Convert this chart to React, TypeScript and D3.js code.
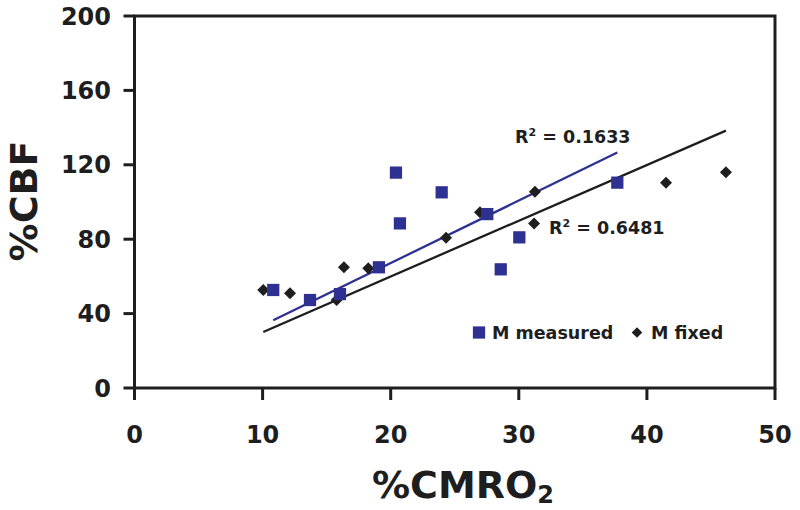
import React from "react";
import * as d3 from "d3";

// M measured (blue squares)
const measuredX = [10.83, 13.7, 16.04, 19.08, 20.41, 20.72, 23.98, 27.54, 28.59, 30.04, 37.69];
const measuredY = [52.7, 47.3, 50.5, 64.9, 115.8, 88.5, 105.2, 93.5, 63.8, 81.0, 110.4];
// M fixed (black diamonds)
const fixedX = [10.05, 12.14, 15.78, 16.35, 18.25, 24.32, 26.97, 31.26, 31.19, 41.49, 46.17];
const fixedY = [52.7, 50.9, 47.3, 64.9, 64.4, 80.8, 94.5, 105.5, 88.5, 110.4, 116.0];

const xTicks = [0, 10, 20, 30, 40, 50];
const yTicks = [0, 40, 80, 120, 160, 200];
const r2Labels = ["0.1633", "0.6481"];
const legendLabels = ["M measured", "M fixed"];

const BLUE = "#2e3192";
const DARK = "#1e1e1e";
const FONT = "'DejaVu Sans', Verdana, sans-serif";

// least squares through origin
function fitSlope(xs: number[], ys: number[]) {
  const sxy = d3.sum(xs, (x, i) => x * ys[i]);
  const sxx = d3.sum(xs, (x) => x * x);
  return sxy / sxx;
}

export default function App() {
  const x = d3.scaleLinear().domain([0, 50]).range([134.5, 775]);
  const y = d3.scaleLinear().domain([0, 200]).range([388, 16]);

  const square = d3.symbol(d3.symbolSquare, 150)()!;
  const diamond = d3.symbol(d3.symbolSquare, 72)()!;
  const legendSquare = d3.symbol(d3.symbolSquare, 150)()!;
  const legendDiamond = d3.symbol(d3.symbolSquare, 56)()!;

  const line = d3
    .line<[number, number]>()
    .x((d) => x(d[0]))
    .y((d) => y(d[1]));

  const bSlope = fitSlope(measuredX, measuredY);
  const kSlope = fitSlope(fixedX, fixedY);
  const bExt = d3.extent(measuredX) as [number, number];
  const kExt = d3.extent(fixedX) as [number, number];
  const blueLine: [number, number][] = bExt.map((v) => [v, v * bSlope] as [number, number]);
  const blackLine: [number, number][] = kExt.map((v) => [v, v * kSlope] as [number, number]);

  const [x0, x1] = x.range();
  const [y0, y1] = y.range();

  return (
    <svg
      width={800}
      height={510}
      style={{ position: "absolute", left: 0, top: 0, background: "#fff" }}
      fontFamily={FONT}
      fontWeight="bold"
    >
      <rect width={800} height={510} fill="#fff" />
      {/* frame */}
      <rect x={x0} y={y1} width={x1 - x0} height={y0 - y1} fill="none" stroke={DARK} strokeWidth={3} />
      {/* y ticks */}
      {yTicks.map((t) => (
        <g key={"y" + t}>
          <line x1={x0 - 11} x2={x0} y1={y(t)} y2={y(t)} stroke={DARK} strokeWidth={3} />
          <text x={111} y={y(t)} dy="0.36em" textAnchor="end" fontSize={24} fill={DARK}>
            {t}
          </text>
        </g>
      ))}
      {/* x ticks */}
      {xTicks.map((t) => (
        <g key={"x" + t}>
          <line x1={x(t)} x2={x(t)} y1={y0} y2={y0 + 12} stroke={DARK} strokeWidth={3} />
          <text x={x(t)} y={443} textAnchor="middle" fontSize={24} fill={DARK}>
            {t}
          </text>
        </g>
      ))}
      {/* axis titles */}
      <text x={463} y={498} textAnchor="middle" fontSize={38} fill={DARK}>
        %CMRO
        <tspan fontSize={24} dy={5}>2</tspan>
      </text>
      <text transform="translate(37,201) rotate(-90)" textAnchor="middle" fontSize={38} fill={DARK}>
        %CBF
      </text>

      {/* trend lines */}
      <path d={line(blackLine)!} stroke={DARK} strokeWidth={2.3} fill="none" />
      <path d={line(blueLine)!} stroke={BLUE} strokeWidth={2.3} fill="none" />

      {/* points */}
      {fixedX.map((v, i) => (
        <path key={"f" + i} d={diamond} transform={`translate(${x(v)},${y(fixedY[i])}) rotate(45)`} fill={DARK} />
      ))}
      {measuredX.map((v, i) => (
        <path key={"m" + i} d={square} transform={`translate(${x(v)},${y(measuredY[i])})`} fill={BLUE} />
      ))}

      {/* R2 labels */}
      <text x={515} y={143} fontSize={17.5} fill={DARK}>
        R<tspan fontSize={11} dy={-7}>2</tspan>
        <tspan dy={7}> = {r2Labels[0]}</tspan>
      </text>
      <text x={549} y={233.5} fontSize={17.5} fill={DARK}>
        R<tspan fontSize={11} dy={-7}>2</tspan>
        <tspan dy={7}> = {r2Labels[1]}</tspan>
      </text>

      {/* legend */}
      <path d={legendSquare} transform="translate(479,332.5)" fill={BLUE} />
      <text x={492} y={339} fontSize={17.5} fill={DARK}>
        {legendLabels[0]}
      </text>
      <path d={legendDiamond} transform="translate(637,332.5) rotate(45)" fill={DARK} />
      <text x={651} y={339} fontSize={17.5} fill={DARK}>
        {legendLabels[1]}
      </text>
    </svg>
  );
}
